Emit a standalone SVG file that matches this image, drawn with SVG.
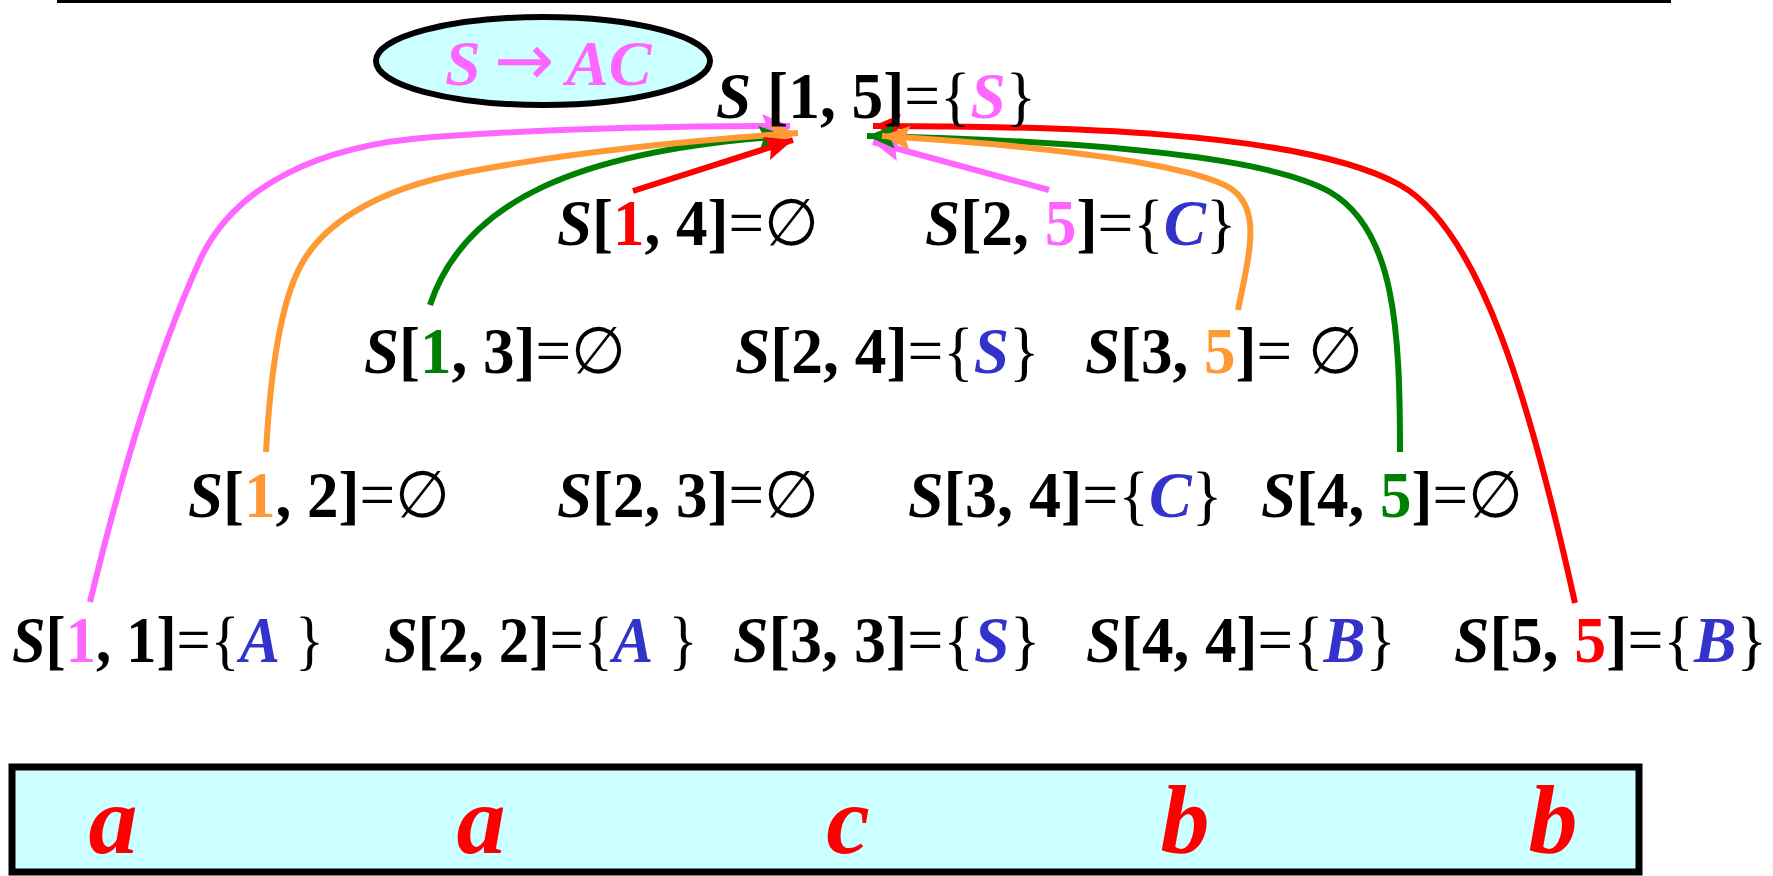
<svg xmlns="http://www.w3.org/2000/svg" width="1773" height="876" viewBox="0 0 1773 876">
<style>
.t{font-family:"Liberation Serif","Times New Roman",serif;font-size:65px;font-weight:bold;fill:#000}
.i{font-style:italic}
.n{font-weight:normal}
.bl{fill:#3333CC;font-style:italic}
.c{fill:none;stroke-width:6}
.w{font-family:"Liberation Serif","Times New Roman",serif;font-size:98px;font-weight:bold;font-style:italic;fill:#FF0000;text-anchor:middle}
</style>
<defs>
<marker id="mP" markerWidth="32" markerHeight="26" refX="28" refY="13" orient="auto" markerUnits="userSpaceOnUse"><path d="M0,1 L28,13 L0,25 L5,13 Z" fill="#FF66FF"/></marker>
<marker id="mO" markerWidth="32" markerHeight="26" refX="28" refY="13" orient="auto" markerUnits="userSpaceOnUse"><path d="M0,1 L28,13 L0,25 L5,13 Z" fill="#FF9933"/></marker>
<marker id="mG" markerWidth="32" markerHeight="26" refX="28" refY="13" orient="auto" markerUnits="userSpaceOnUse"><path d="M0,1 L28,13 L0,25 L5,13 Z" fill="#008000"/></marker>
<marker id="mR" markerWidth="32" markerHeight="26" refX="28" refY="13" orient="auto" markerUnits="userSpaceOnUse"><path d="M0,1 L28,13 L0,25 L5,13 Z" fill="#FF0000"/></marker>
</defs>
<line x1="57" y1="1.5" x2="1671" y2="1.5" stroke="#000" stroke-width="3"/>

<g id="rule">
<ellipse cx="543" cy="61" rx="167" ry="44" fill="#CCFFFF" stroke="#000" stroke-width="6"/>
<text x="445" y="85" class="t i" style="font-size:64px;fill:#FF66FF">S<tspan x="494" class="n" style="font-family:'DejaVu Sans',sans-serif;font-style:normal;font-size:72px">→</tspan><tspan x="566">AC</tspan></text>
</g>

<g id="connectors">
<path class="c" stroke="#FF66FF" d="M90,602 C115,500 150,370 200,260 C235,185 320,145 433,137 C560,128 700,126 790,126" marker-end="url(#mP)"/>
<path class="c" stroke="#008000" d="M430,305 C465,200 580,150 787,136" marker-end="url(#mG)"/>
<path class="c" stroke="#FF9933" d="M266,452 C270,380 280,305 300,267 C320,228 370,190 467,172 C540,158 650,143 798,133" marker-end="url(#mO)"/>
<path class="c" stroke="#FF0000" d="M633,191 L793,140" marker-end="url(#mR)"/>
<path class="c" stroke="#FF66FF" d="M1049,190 L873,142" marker-end="url(#mP)"/>
<path class="c" stroke="#FF0000" d="M1575,603 C1530,400 1480,230 1400,185 C1300,130 1050,126 873,126" marker-end="url(#mR)"/>
<path class="c" stroke="#008000" d="M1400,452 C1400,330 1395,230 1330,192 C1260,152 1050,140 867,136" marker-end="url(#mG)"/>
<path class="c" stroke="#FF9933" d="M1238,310 C1250,250 1265,200 1220,183 C1160,158 1000,143 882,136" marker-end="url(#mO)"/>
</g>

<g id="n15"><text transform="translate(716,118) scale(0.975,1)" class="t"><tspan class="i">S</tspan> [1, 5]<tspan class="n">={</tspan><tspan class="i" fill="#FF66FF">S</tspan><tspan class="n">}</tspan></text></g>

<g id="n14"><text transform="translate(557,245) scale(0.97,1)" class="t"><tspan class="i">S</tspan>[<tspan fill="#FF0000">1</tspan>, 4]<tspan class="n">=∅</tspan></text></g>
<g id="n25"><text transform="translate(925,245) scale(0.975,1)" class="t"><tspan class="i">S</tspan>[2, <tspan fill="#FF66FF">5</tspan>]<tspan class="n">={</tspan><tspan class="bl">C</tspan><tspan class="n">}</tspan></text></g>

<g id="n13"><text transform="translate(364,373) scale(0.97,1)" class="t"><tspan class="i">S</tspan>[<tspan fill="#008000">1</tspan>, 3]<tspan class="n">=∅</tspan></text></g>
<g id="n24"><text transform="translate(735,373) scale(0.975,1)" class="t"><tspan class="i">S</tspan>[2, 4]<tspan class="n">={</tspan><tspan class="bl">S</tspan><tspan class="n">}</tspan></text></g>
<g id="n35"><text transform="translate(1085,373) scale(0.97,1)" class="t"><tspan class="i">S</tspan>[3, <tspan fill="#FF9933">5</tspan>]<tspan class="n">= ∅</tspan></text></g>

<g id="n12"><text transform="translate(188,517) scale(0.97,1)" class="t"><tspan class="i">S</tspan>[<tspan fill="#FF9933">1</tspan>, 2]<tspan class="n">=∅</tspan></text></g>
<g id="n23"><text transform="translate(557,517) scale(0.97,1)" class="t"><tspan class="i">S</tspan>[2, 3]<tspan class="n">=∅</tspan></text></g>
<g id="n34"><text transform="translate(908,517) scale(0.985,1)" class="t"><tspan class="i">S</tspan>[3, 4]<tspan class="n">={</tspan><tspan class="bl">C</tspan><tspan class="n">}</tspan></text></g>
<g id="n45"><text transform="translate(1261,517) scale(0.97,1)" class="t"><tspan class="i">S</tspan>[4, <tspan fill="#008000">5</tspan>]<tspan class="n">=∅</tspan></text></g>

<g id="n11"><text transform="translate(12,662) scale(0.93,1)" class="t"><tspan class="i">S</tspan>[<tspan fill="#FF66FF">1</tspan>, 1]<tspan class="n">={</tspan><tspan class="bl">A</tspan><tspan class="n"> }</tspan></text></g>
<g id="n22"><text transform="translate(384,662) scale(0.935,1)" class="t"><tspan class="i">S</tspan>[2, 2]<tspan class="n">={</tspan><tspan class="bl">A</tspan><tspan class="n"> }</tspan></text></g>
<g id="n33"><text transform="translate(733,662) scale(0.985,1)" class="t"><tspan class="i">S</tspan>[3, 3]<tspan class="n">={</tspan><tspan class="bl">S</tspan><tspan class="n">}</tspan></text></g>
<g id="n44"><text transform="translate(1086,662) scale(0.97,1)" class="t"><tspan class="i">S</tspan>[4, 4]<tspan class="n">={</tspan><tspan class="bl">B</tspan><tspan class="n">}</tspan></text></g>
<g id="n55"><text transform="translate(1454,662) scale(0.98,1)" class="t"><tspan class="i">S</tspan>[5, <tspan fill="#FF0000">5</tspan>]<tspan class="n">={</tspan><tspan class="bl">B</tspan><tspan class="n">}</tspan></text></g>

<g id="input">
<rect x="12" y="767" width="1627" height="105" fill="#CCFFFF" stroke="#000" stroke-width="7"/>
<text x="113" y="853" class="w">a</text>
<text x="481" y="853" class="w">a</text>
<text x="848" y="853" class="w">c</text>
<text x="1185" y="853" class="w">b</text>
<text x="1553" y="853" class="w">b</text>
</g>
</svg>
